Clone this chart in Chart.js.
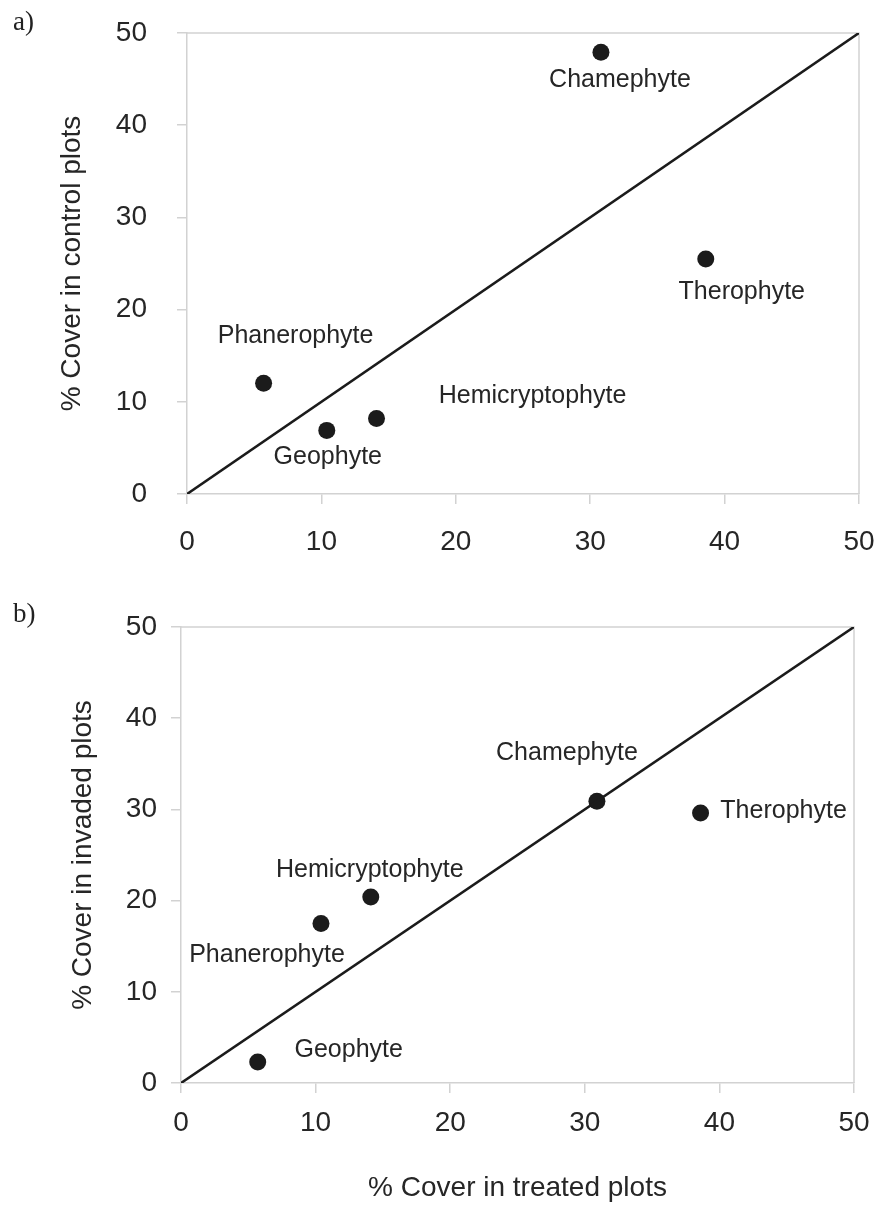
<!DOCTYPE html>
<html lang="en">
<head>
<meta charset="UTF-8">
<title>Cover by life form</title>
<script src="https://cdn.jsdelivr.net/npm/chart.js"></script>
<style>
  html, body { margin: 0; padding: 0; background: #fff; }
  #page { position: relative; width: 881px; height: 1207px; overflow: hidden; }
  .panel { position: absolute; left: 0; }
  .tag { position: absolute; left: 13px; font-family: "Liberation Serif", "Times New Roman", serif; font-size: 27px; color: #222; line-height: 1; }
</style>
</head>
<body>
<div id="page">
  <canvas id="chartA" class="panel" style="top:0" width="881" height="575"></canvas>
  <canvas id="chartB" class="panel" style="top:590px" width="881" height="617"></canvas>
  <div class="tag" style="top:8px">a)</div>
  <div class="tag" style="top:600px">b)</div>
</div>

<script>
  // life forms, same order in both panels
  const lifeForms = ["Chamephyte", "Therophyte", "Phanerophyte", "Geophyte", "Hemicryptophyte"];

  // panel a: treated vs control
  const treatedA = [30.8, 38.6, 5.7, 10.4, 14.1];
  const controlA = [47.9, 25.5, 12.0, 6.9, 8.2];

  // panel b: treated vs invaded
  const treatedB = [30.9, 38.6, 10.4, 5.7, 14.1];
  const invadedB = [30.9, 29.6, 17.5, 2.3, 20.4];

  // 1:1 reference line ends and axis range
  const oneToOne = [0, 50];
  const axisMin = 0, axisMax = 50, axisStep = 10;

  // where each name sits relative to its dot (px)
  const labelOffsetsA = [[19, 28], [36, 33], [32, -47], [1, 27], [156, -22]];
  const labelOffsetsB = [[-30, -48], [83, -2], [-54, 32], [91, -12], [-1, -27]];

  const INK = "#1b1b1b";
  const TEXT = "#262626";
  const GRID = "#d2d2d2";
  Chart.defaults.font.family = '"Liberation Sans", Arial, sans-serif';
  Chart.defaults.color = TEXT;

  const frameAndLabels = {
    id: "frameAndLabels",
    beforeDatasetsDraw(chart) {
      const { ctx, chartArea: a } = chart;
      ctx.save();
      ctx.strokeStyle = GRID;
      ctx.lineWidth = 1.5;
      ctx.beginPath();
      ctx.moveTo(a.left, a.top);
      ctx.lineTo(a.right, a.top);
      ctx.lineTo(a.right, a.bottom);
      ctx.stroke();
      ctx.restore();
    },
    afterDatasetsDraw(chart, args, opts) {
      const { ctx } = chart;
      const meta = chart.getDatasetMeta(1);
      ctx.save();
      ctx.font = '25px "Liberation Sans", Arial, sans-serif';
      ctx.fillStyle = TEXT;
      ctx.textAlign = "center";
      ctx.textBaseline = "middle";
      meta.data.forEach((pt, i) => {
        const off = opts.offsets[i];
        ctx.fillText(lifeForms[i], pt.x + off[0], pt.y + off[1]);
      });
      ctx.restore();
    }
  };

  function makePanel(id, xs, ys, offsets, cfg) {
    const axisCommon = {
      type: "linear",
      min: axisMin,
      max: axisMax,
      grid: { drawOnChartArea: false, drawTicks: true, tickLength: 10, color: GRID, lineWidth: 1.5 },
      border: { color: GRID, width: 1.5 }
    };
    return new Chart(document.getElementById(id), {
      type: "scatter",
      data: {
        datasets: [
          {
            type: "line",
            data: oneToOne.map(v => ({ x: v, y: v })),
            borderColor: INK,
            borderWidth: 2.6,
            pointRadius: 0,
            fill: false
          },
          {
            data: xs.map((x, i) => ({ x: x, y: ys[i] })),
            backgroundColor: INK,
            borderWidth: 0,
            pointRadius: 8.5
          }
        ]
      },
      options: {
        responsive: false,
        animation: false,
        layout: { padding: { top: cfg.top, right: cfg.right, left: 0, bottom: 0 } },
        plugins: {
          legend: { display: false },
          tooltip: { enabled: false },
          frameAndLabels: { offsets: offsets }
        },
        scales: {
          x: Object.assign({}, axisCommon, {
            ticks: { stepSize: axisStep, padding: cfg.xPad, font: { size: 28 }, color: TEXT },
            title: {
              display: !!cfg.xTitle,
              text: cfg.xTitle || "",
              font: { size: 28 },
              color: TEXT,
              padding: { top: 0, bottom: 2 }
            },
            afterFit(s) {
              s.height = cfg.xHeight;
              s.paddingLeft = 0;
              s.paddingRight = 0;
            }
          }),
          y: Object.assign({}, axisCommon, {
            ticks: { stepSize: axisStep, padding: cfg.yPad, font: { size: 28 }, color: TEXT },
            title: {
              display: true,
              text: cfg.yTitle,
              font: { size: 28 },
              color: TEXT,
              padding: { top: cfg.yTitleGap, bottom: 0 }
            },
            afterFit(s) {
              s.width = cfg.yWidth;
              s.paddingTop = 0;
              s.paddingBottom = 0;
            }
          })
        }
      },
      plugins: [frameAndLabels]
    });
  }

  makePanel("chartA", treatedA, controlA, labelOffsetsA, {
    top: 33, right: 22, yWidth: 187, xHeight: 81,
    xPad: 21, yPad: 30, yTitleGap: 55,
    yTitle: "% Cover in control plots"
  });

  makePanel("chartB", treatedB, invadedB, labelOffsetsB, {
    top: 37, right: 27, yWidth: 181, xHeight: 124,
    xPad: 13, yPad: 14, yTitleGap: 66,
    yTitle: "% Cover in invaded plots",
    xTitle: "% Cover in treated plots"
  });
</script>
</body>
</html>
